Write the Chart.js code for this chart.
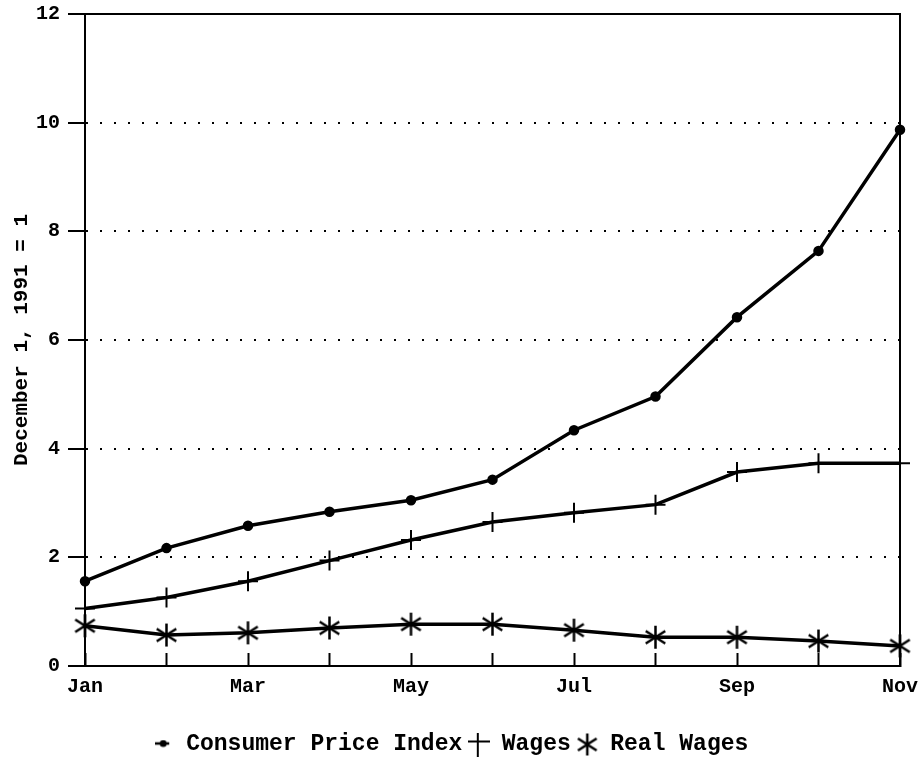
<!DOCTYPE html>
<html lang="en">
<head>
    <meta charset="UTF-8">
    <title>Consumer Price Index, Wages and Real Wages</title>
    <script src="https://cdn.jsdelivr.net/npm/chart.js"></script>
    <style>
        body {
            margin: 0;
            background: #fff;
        }
        .chart-wrapper {
            width: 922px;
            height: 766px;
        }
    </style>
</head>
<body>
    <div class="chart-wrapper">
        <canvas id="wageChart"></canvas>
    </div>

    <script>
        // data
        const months = ['Jan', 'Feb', 'Mar', 'Apr', 'May', 'Jun', 'Jul', 'Aug', 'Sep', 'Oct', 'Nov'];
        const cpiValues = [1.56, 2.17, 2.58, 2.84, 3.05, 3.43, 4.34, 4.96, 6.42, 7.64, 9.87];
        const wageValues = [1.06, 1.26, 1.56, 1.94, 2.32, 2.65, 2.82, 2.97, 3.57, 3.73, 3.73];
        const realWageValues = [0.74, 0.57, 0.61, 0.70, 0.77, 0.77, 0.66, 0.53, 0.53, 0.46, 0.37];
        const yTicks = [0, 2, 4, 6, 8, 10, 12];

        const fontFamily = '"Liberation Mono", "Courier New", monospace';

        function newCanvas(w, h) {
            const c = document.createElement('canvas');
            c.width = w;
            c.height = h;
            return c;
        }

        // asterisk marker: vertical stroke plus an X
        function makeAsterisk(size) {
            const c = newCanvas(size, size);
            const ctx = c.getContext('2d');
            const r = size / 2 - 1;
            const m = size / 2;
            ctx.strokeStyle = '#000';
            ctx.lineWidth = 2.5;
            ctx.beginPath();
            ctx.moveTo(m, m - r);
            ctx.lineTo(m, m + r);
            ctx.moveTo(m - r * 0.85, m - r * 0.55);
            ctx.lineTo(m + r * 0.85, m + r * 0.55);
            ctx.moveTo(m + r * 0.85, m - r * 0.55);
            ctx.lineTo(m - r * 0.85, m + r * 0.55);
            ctx.stroke();
            return c;
        }

        // legend swatch for CPI: short line ending in a dot
        function makeDotLine() {
            const c = newCanvas(16, 10);
            const ctx = c.getContext('2d');
            ctx.strokeStyle = '#000';
            ctx.fillStyle = '#000';
            ctx.lineWidth = 2.5;
            ctx.beginPath();
            ctx.moveTo(0, 4);
            ctx.lineTo(14, 4);
            ctx.stroke();
            ctx.beginPath();
            ctx.arc(8, 4, 3.5, 0, Math.PI * 2);
            ctx.fill();
            return c;
        }

        // legend swatch for wages: plus with a long vertical stroke
        function makePlus() {
            const c = newCanvas(22, 24);
            const ctx = c.getContext('2d');
            ctx.strokeStyle = '#000';
            ctx.lineWidth = 2;
            ctx.beginPath();
            ctx.moveTo(0, 9);
            ctx.lineTo(22, 9);
            ctx.moveTo(10, 0);
            ctx.lineTo(10, 24);
            ctx.stroke();
            return c;
        }

        const asterisk = makeAsterisk(25);
        const legendSwatches = [makeDotLine(), makePlus(), makeAsterisk(24)];

        // plot frame (top + right border)
        const framePlugin = {
            id: 'frame',
            beforeDatasetsDraw(chart) {
                const a = chart.chartArea;
                const ctx = chart.ctx;
                ctx.save();
                ctx.strokeStyle = '#000';
                ctx.lineWidth = 2;
                ctx.strokeRect(a.left, a.top, a.right - a.left, a.bottom - a.top);
                ctx.restore();
            }
        };

        const wageData = {
            labels: months,
            datasets: [{
                label: 'Consumer Price Index',
                data: cpiValues,
                borderColor: '#000',
                backgroundColor: '#000',
                borderWidth: 3.5,
                pointStyle: 'circle',
                pointRadius: 3.5,
                tension: 0,
                clip: false
            }, {
                label: 'Wages',
                data: wageValues,
                borderColor: '#000',
                backgroundColor: '#000',
                borderWidth: 3.5,
                pointStyle: 'cross',
                pointRadius: 10,
                pointBorderWidth: 2,
                tension: 0,
                clip: false
            }, {
                label: 'Real Wages',
                data: realWageValues,
                borderColor: '#000',
                backgroundColor: '#000',
                borderWidth: 3.5,
                pointStyle: asterisk,
                tension: 0,
                clip: false
            }]
        };

        new Chart(document.getElementById('wageChart').getContext('2d'), {
            type: 'line',
            data: wageData,
            plugins: [framePlugin],
            options: {
                responsive: true,
                maintainAspectRatio: false,
                animation: false,
                layout: {
                    padding: { top: 14, right: 22, left: 0, bottom: 0 }
                },
                plugins: {
                    tooltip: { enabled: false },
                    legend: {
                        position: 'bottom',
                        labels: {
                            usePointStyle: true,
                            color: '#000',
                            padding: 5,
                            font: { family: fontFamily, size: 23, weight: 'bold' },
                            generateLabels(chart) {
                                const items = Chart.defaults.plugins.legend.labels.generateLabels(chart);
                                items.forEach((item, i) => { item.pointStyle = legendSwatches[i]; });
                                return items;
                            }
                        }
                    }
                },
                scales: {
                    x: {
                        afterFit(scale) {
                            scale.height = 62;
                            scale.paddingLeft = 0;
                            scale.paddingRight = 0;
                        },
                        border: { display: true, color: '#000', width: 2 },
                        grid: {
                            drawOnChartArea: false,
                            tickLength: -13,
                            tickColor: '#000',
                            tickWidth: 2
                        },
                        ticks: {
                            color: '#000',
                            padding: 22,
                            autoSkip: false,
                            maxRotation: 0,
                            font: { family: fontFamily, size: 20, weight: 'bold' },
                            callback: (value, index) => index % 2 === 0 ? months[index] : ''
                        }
                    },
                    y: {
                        min: 0,
                        max: 12,
                        afterFit(scale) {
                            scale.width = 85;
                            scale.paddingTop = 0;
                            scale.paddingBottom = 0;
                        },
                        afterBuildTicks(scale) {
                            scale.ticks = yTicks.map(v => ({ value: v }));
                        },
                        border: { display: true, color: '#000', width: 2, dash: [2, 12] },
                        grid: {
                            color: ctx => (ctx.tick && (ctx.tick.value === 0 || ctx.tick.value === 12)) ? 'rgba(0,0,0,0)' : '#000',
                            lineWidth: 2,
                            tickColor: '#000',
                            tickWidth: 2,
                            tickLength: 17,
                            tickBorderDash: []
                        },
                        ticks: {
                            color: '#000',
                            padding: 8,
                            font: { family: fontFamily, size: 20, weight: 'bold' }
                        },
                        title: {
                            display: true,
                            text: 'December 1, 1991 = 1',
                            color: '#000',
                            padding: { top: 9, bottom: 2 },
                            font: { family: fontFamily, size: 21, weight: 'bold' }
                        }
                    }
                }
            }
        });
    </script>
</body>
</html>
